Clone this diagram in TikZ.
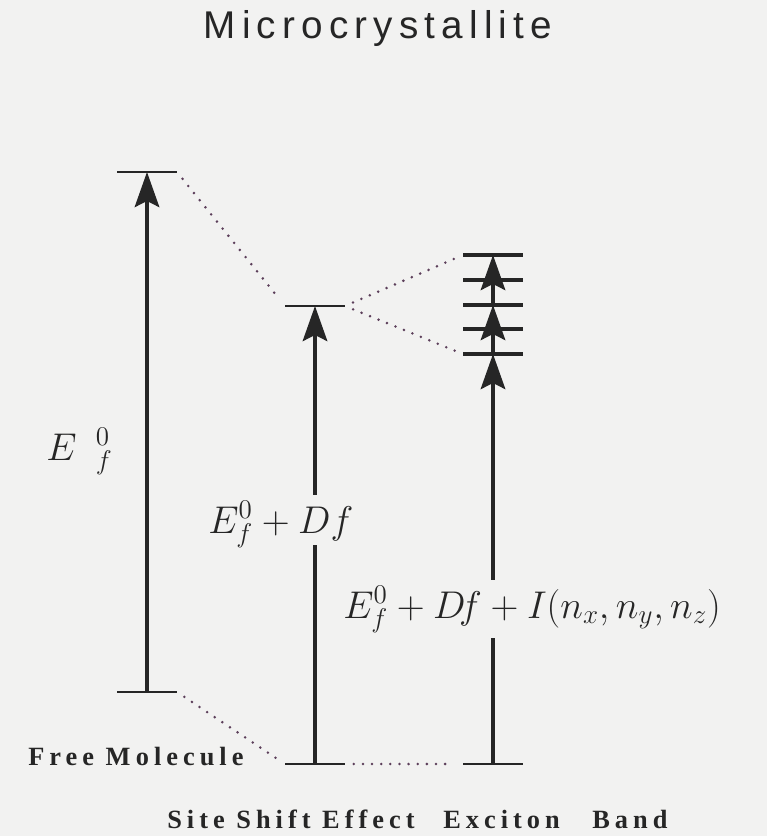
\RequirePackage{fix-cm}
\documentclass[tikz,border=0pt]{standalone}
\usepackage{fontspec}
\usetikzlibrary{arrows.meta, positioning}
\newfontfamily\titlefont[LetterSpace=16]{Liberation Sans}
\newfontfamily\bandfont[LetterSpace=19]{Liberation Serif}
\definecolor{scanBg}{HTML}{F2F2F1}
\definecolor{scanInk}{HTML}{262626}
\definecolor{scanDot}{HTML}{5C3F5A}

\begin{document}
\begin{tikzpicture}[
    x=0.02cm, y=-0.02cm,
    lvl/.style={minimum width=1.2cm, minimum height=0pt, inner sep=0pt, outer sep=0pt},
    lvlline/.style={draw=scanInk, line width=1.5pt},
    jump/.style={draw=scanInk, line width=1.8pt,
                 -{Stealth[length=20pt, width=14pt, inset=3.5pt]}},
    dots/.style={draw=scanDot, line width=1.6pt, line cap=round,
                 dash pattern=on 0pt off 5.2pt, shorten <=5pt, shorten >=5pt},
    etext/.style={text=scanInk, font=\fontsize{22}{26}\selectfont, inner sep=0pt,
                 anchor=base west},
    etextcut/.style={etext, fill=scanBg, text height=21.5pt, text depth=6.8pt},
    bandtext/.style={text=scanInk, font=\bandfont\bfseries\fontsize{15}{18}\selectfont,
                 inner sep=0pt, anchor=base west},
  ]
  \path[use as bounding box, fill=scanBg] (0,0) rectangle (767,836);

  \node[text=scanInk, font=\titlefont\fontsize{22}{26}\selectfont, inner sep=0pt]
    (title) at (378,29) {Microcrystallite};

  % energy levels
  \node[lvl] (t1) at (147,172) {};
  \node[lvl] (b1) at (147,692) {};
  \node[lvl] (t2) at (315,306) {};
  \node[lvl] (b2) at (315,764) {};
  \node[lvl] (b3) at (493,764) {};
  \foreach \i/\y in {1/255, 2/280, 3/305, 4/329, 5/354}
    \node[lvl] (x\i) at (493,\y) {};

  \foreach \n in {t1, b1, t2, b2, b3}
    \draw[lvlline] (\n.west) -- (\n.east);
  \foreach \i in {1,...,5}
    \draw[lvlline, line width=1.9pt] (x\i.west) -- (x\i.east);

  % transitions
  \draw[jump] (b1.center) -- (t1.center);
  \draw[jump] (b2.center) -- (t2.center);
  \draw[jump] (b3.center) -- (x5.center);
  \draw[jump] (x5.center) -- (x3.center);
  \draw[jump] (x3.center) -- (x1.center);

  % correlation lines
  \draw[dots] (t1.east) -- (t2.west);
  \draw[dots] (b1.east) -- (b2.west);
  \draw[dots] (b2.east) -- (b3.west);
  \draw[dots] (t2.east) -- (x1.west);
  \draw[dots] (t2.east) -- (x5.west);

  % energies
  \node[etext] (e1) at (46,460) {$E\hspace{11pt}{}^{0}_{f}$};
  \node[etextcut] (e2) at (208,533) {$E_f^0 + Df$};
  \node[etextcut, text depth=11.3pt] (e3) at (343,618) {$E_f^0 + D\!f + I(n_x, n_y, n_z)$};

  % captions
  \node[bandtext] (free) at (28,765) {Free M\kern3pt olecule};
  \node[bandtext] (site) at (167,828) {Site Shift Effect};
  \node[bandtext] (exc) at (443,828) {Exciton};
  \node[bandtext] (band) at (592,828) {Band};
\end{tikzpicture}
\end{document}
